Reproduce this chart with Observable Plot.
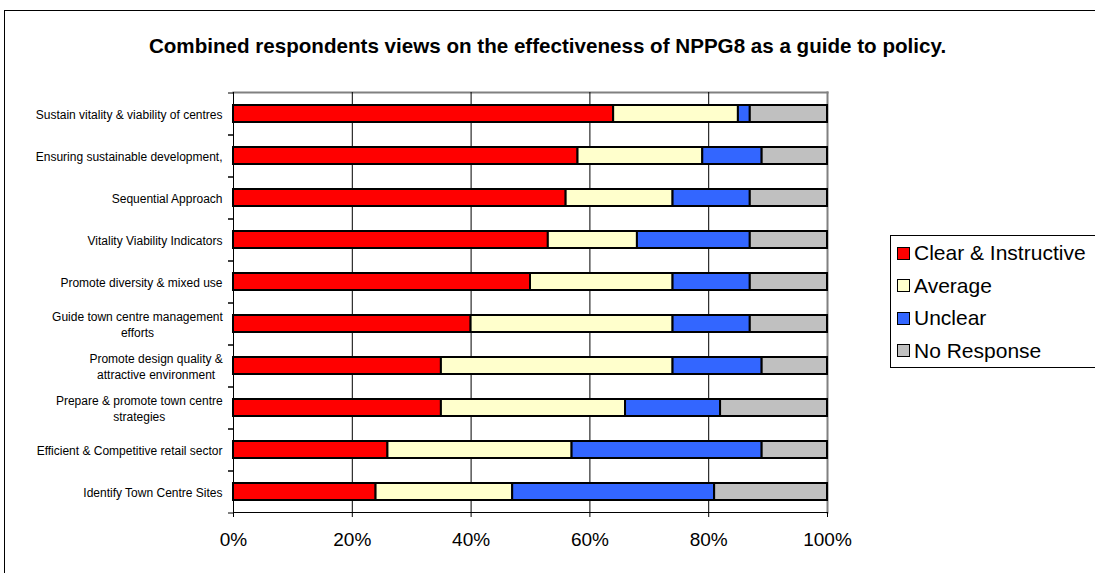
<!DOCTYPE html>
<html>
<head>
<meta charset="utf-8">
<script src="https://cdn.jsdelivr.net/npm/d3@7"></script>
<script src="https://cdn.jsdelivr.net/npm/@observablehq/plot@0.6"></script>
<style>
html, body { margin: 0; padding: 0; width: 1095px; height: 573px; overflow: hidden; background: #fff; }
body { position: relative; font-family: "Liberation Sans", Arial, sans-serif; color: #000; }
#frame { position: absolute; left: 4px; top: 10px; width: 1200px; height: 700px; border-left: 1px solid #000; border-top: 1px solid #000; }
#title { position: absolute; left: 0; top: 34px; width: 1095px; text-align: center; font-weight: bold; font-size: 20.6px; white-space: nowrap; }
#chart { position: absolute; left: 0; top: 0; }
#legend { position: absolute; left: 890px; top: 235px; width: 220px; height: 131px; border: 1px solid #000; background: #fff; }
.item { position: absolute; left: 6px; height: 24px; display: flex; align-items: center; font-size: 21px; white-space: nowrap; }
.sw { width: 11px; height: 11px; border: 1.5px solid #000; margin-right: 4px; }
</style>
</head>
<body>
<div id="frame"></div>
<div id="title">Combined respondents views on the effectiveness of NPPG8 as a guide to policy.</div>
<div id="chart"></div>
<div id="legend"></div>
<script>
// ---- data ----
const categories = [
  "Sustain vitality & viability of centres",
  "Ensuring sustainable development,",
  "Sequential Approach",
  "Vitality Viability Indicators",
  "Promote diversity & mixed use",
  "Guide town centre management efforts",
  "Promote design quality & attractive environment",
  "Prepare & promote town centre strategies",
  "Efficient & Competitive retail sector",
  "Identify Town Centre Sites"
];
const yTickLabels = [
  "Sustain vitality & viability of centres",
  "Ensuring sustainable development,",
  "Sequential Approach",
  "Vitality Viability Indicators",
  "Promote diversity & mixed use",
  "Guide town centre management\nefforts",
  "Promote design quality &\nattractive environment",
  "Prepare & promote town centre\nstrategies",
  "Efficient & Competitive retail sector",
  "Identify Town Centre Sites"
];
const responses = ["Clear & Instructive", "Average", "Unclear", "No Response"];
const clearInstructive = [64, 58, 56, 53, 50, 40, 35, 35, 26, 24];
const average          = [21, 21, 18, 15, 24, 34, 39, 31, 31, 23];
const unclear          = [ 2, 10, 13, 19, 13, 13, 15, 16, 32, 34];
const noResponse       = [13, 11, 13, 13, 13, 13, 11, 18, 11, 19];
const colors = ["#ff0000", "#ffffcc", "#3366ff", "#c0c0c0"];
const xTicks = [0, 20, 40, 60, 80, 100];

// ---- layout ----
const W = 1095, H = 573;
const plotLeft = 233, plotRight = 827, plotTop = 92, plotBottom = 512;
const step = (plotBottom - plotTop) / categories.length;

const series = [clearInstructive, average, unclear, noResponse];
const table = categories.flatMap((c, i) =>
  responses.map((r, j) => ({category: c, response: r, value: series[j][i]}))
);

const chart = Plot.plot({
  width: W, height: H,
  marginLeft: plotLeft, marginRight: W - plotRight,
  marginTop: plotTop, marginBottom: H - plotBottom,
  style: {fontFamily: '"Liberation Sans", Arial, sans-serif', background: "transparent", color: "#000"},
  x: {domain: [0, 100]},
  y: {domain: categories, paddingInner: 0.6, paddingOuter: 0.3},
  color: {domain: responses, range: colors},
  marks: [
    Plot.frame({anchor: "top", stroke: "#808080", strokeWidth: 2}),
    Plot.frame({anchor: "right", stroke: "#808080", strokeWidth: 2}),
    Plot.ruleX(xTicks.filter(t => t > 0 && t < 100), {stroke: "#000", strokeWidth: 1}),
    Plot.barX(table, {x: "value", y: "category", fill: "response", stroke: "#000", strokeWidth: 2}),
    Plot.axisY({tickSize: 0, tickPadding: 11, fontSize: 12, lineHeight: 1.35, label: null,
      tickFormat: d => yTickLabels[categories.indexOf(d)]}),
    Plot.axisY({fill: "none", tickSize: 5, dy: -step / 2, label: null}),
    Plot.axisY({fill: "none", tickSize: 5, dy: step / 2, label: null}),
    Plot.axisX({ticks: xTicks, tickSize: 5, tickPadding: 15, fontSize: 19, label: null,
      tickFormat: d => d + "%"}),
    Plot.frame({anchor: "left", stroke: "#000"}),
    Plot.frame({anchor: "bottom", stroke: "#000"})
  ]
});
document.getElementById("chart").appendChild(chart);

// center multi-line category labels like the original
chart.querySelectorAll('[aria-label="y-axis tick label"] text').forEach(t => {
  const spans = t.querySelectorAll("tspan");
  if (spans.length > 1) {
    const b = t.getBBox();
    const cx = b.x + b.width / 2;
    t.setAttribute("text-anchor", "middle");
    spans.forEach(s => s.setAttribute("x", cx));
  }
});

// legend
const legend = document.getElementById("legend");
responses.forEach((r, i) => {
  const item = document.createElement("div");
  item.className = "item";
  item.style.top = (5 + i * 32.5) + "px";
  const sw = document.createElement("div");
  sw.className = "sw";
  sw.style.background = colors[i];
  item.appendChild(sw);
  item.appendChild(document.createTextNode(r));
  legend.appendChild(item);
});
</script>
</body>
</html>
